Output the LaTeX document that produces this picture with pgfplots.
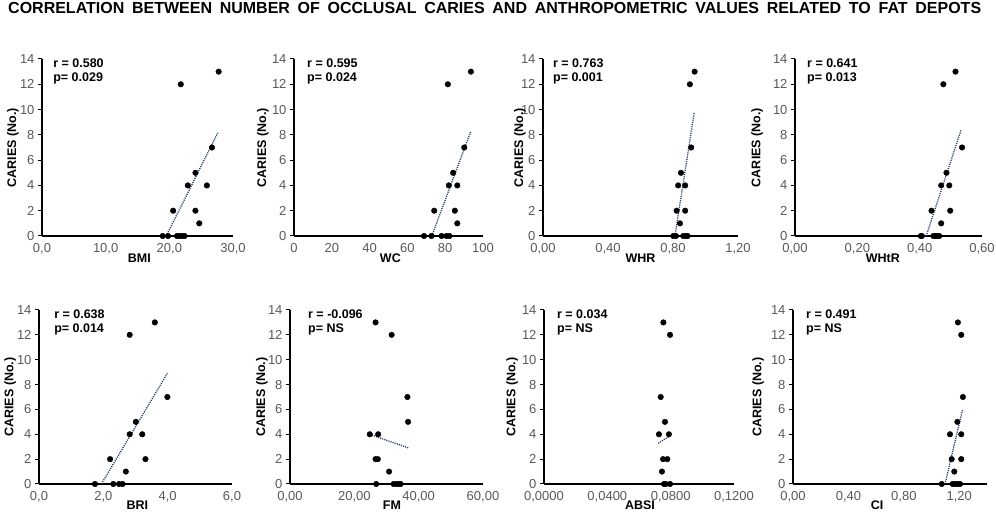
\documentclass[border=0pt]{standalone}
\usepackage{fontspec}
\setmainfont{Liberation Sans}
\usepackage{pgfplots}
\pgfplotsset{compat=1.18}
\definecolor{tickgray}{HTML}{595959}
\definecolor{trendc}{HTML}{1F3864}
\pgfplotsset{
  panel/.style={
    scale only axis, anchor=south west,
    axis x line=bottom, axis y line=left,
    axis line style={black, line width=1.5pt, -},
    xmin=0, ymin=0, ymax=14, ytick={0,2,...,14},
    tick label style={font=\fontsize{13}{13}\selectfont, text=tickgray},
    /pgf/number format/assume math mode=true,
    /pgf/number format/use comma,
    /pgf/number format/fixed,
    /pgf/number format/fixed zerofill,
    yticklabel style={/pgf/number format/precision=0},
    scaled x ticks=false, scaled y ticks=false,
    tick align=outside, major tick length=4pt,
    ytick style={black, line width=1pt},
    xtick style={draw=none},
    clip=false,
    xlabel style={font=\fontsize{12.5}{13}\selectfont\bfseries, anchor=base},
    ylabel style={font=\fontsize{12.5}{13}\selectfont\bfseries, anchor=center},
    ylabel={CARIES (No.)},
  },
  pts/.style={only marks, mark=*, mark size=2.8pt, black},
  trend/.style={no marks, trendc, line width=1.3pt, dash pattern=on 1.1pt off 1.1pt},
}
\newcommand{\rp}[3]{\node[anchor=north west, inner sep=0pt, align=left,
  font=\fontsize{12.5}{14}\selectfont\bfseries] at (rel axis cs:#1,1.0) {#2\\#3};}
\begin{document}
\begin{tikzpicture}
\useasboundingbox (0,0) rectangle (996pt,516pt);
\node[anchor=base west, inner sep=0pt, font=\fontsize{16}{16}\selectfont\bfseries] at (8pt,502pt)
 {\makebox[973pt][s]{CORRELATION BETWEEN NUMBER OF OCCLUSAL CARIES AND ANTHROPOMETRIC VALUES RELATED TO FAT DEPOTS}};
% ---------- Row 1 ----------
\begin{axis}[panel, at={(42pt,280pt)}, width=191pt, height=177pt,
  xmax=30, xtick={0,10,20,30}, xticklabel style={/pgf/number format/precision=1},
  xlabel={BMI}, xlabel style={at={(axis description cs:0.51,-0.147)}},
  ylabel style={at={(axis description cs:-0.152,0.5)}}]
\addplot[pts] coordinates {(18.95,0)(19.8,0)(21.2,0)(21.6,0)(22.0,0)(22.4,0)(21.8,12)(27.75,13)(20.6,2)(22.9,4)(24.1,5)(24.1,2)(24.7,1)(25.9,4)(26.7,7)};
\addplot[trend] coordinates {(19.5,0)(27.6,8.15)};
\rp{0.058}{r = 0.580}{p= 0.029}
\end{axis}
\begin{axis}[panel, at={(294pt,280pt)}, width=189pt, height=177pt,
  xmax=100, xtick={0,20,...,100}, xticklabel style={/pgf/number format/precision=0},
  xlabel={WC}, xlabel style={at={(axis description cs:0.51,-0.147)}},
  ylabel style={at={(axis description cs:-0.164,0.5)}}]
\addplot[pts] coordinates {(68.8,0)(72.7,0)(78.1,0)(80.7,0)(82.3,0)(74.2,2)(81.4,12)(81.9,4)(84.2,5)(85.1,2)(86.4,4)(86.4,1)(90.1,7)(93.6,13)};
\addplot[trend] coordinates {(72.9,0)(93.6,8.3)};
\rp{0.069}{r = 0.595}{p= 0.024}
\end{axis}
\begin{axis}[panel, at={(543pt,280pt)}, width=195pt, height=177pt,
  xmax=1.2, xtick={0,0.4,0.8,1.2}, xticklabel style={/pgf/number format/precision=2},
  xlabel={WHR}, xlabel style={at={(axis description cs:0.5,-0.147)}},
  ylabel style={at={(axis description cs:-0.118,0.5)}}]
\addplot[pts] coordinates {(0.802,0)(0.818,0)(0.822,2)(0.832,4)(0.843,1)(0.849,5)(0.863,0)(0.877,0)(0.890,0)(0.875,4)(0.875,2)(0.904,12)(0.912,7)(0.933,13)};
\addplot[trend] coordinates {(0.812,0)(0.931,9.8)};
\rp{0.051}{r = 0.763}{p= 0.001}
\end{axis}
\begin{axis}[panel, at={(795pt,280pt)}, width=187pt, height=177pt,
  xmax=0.6, xtick={0,0.2,0.4,0.6}, xticklabel style={/pgf/number format/precision=2},
  xlabel={WHtR}, xlabel style={at={(axis description cs:0.47,-0.147)}},
  ylabel style={at={(axis description cs:-0.203,0.5)}}]
\addplot[pts] coordinates {(0.404,0)(0.407,0)(0.438,2)(0.444,0)(0.450,0)(0.456,0)(0.463,0)(0.469,1)(0.469,4)(0.476,12)(0.486,5)(0.495,4)(0.498,2)(0.515,13)(0.536,7)};
\addplot[trend] coordinates {(0.421,0)(0.533,8.4)};
\rp{0.064}{r = 0.641}{p= 0.013}
\end{axis}
% ---------- Row 2 ----------
\begin{axis}[panel, at={(39pt,32pt)}, width=193pt, height=174pt,
  xmax=6, xtick={0,2,4,6}, xticklabel style={/pgf/number format/precision=1},
  xlabel={BRI}, xlabel style={at={(axis description cs:0.51,-0.149)}},
  ylabel style={at={(axis description cs:-0.150,0.5)}}]
\addplot[pts] coordinates {(1.74,0)(2.31,0)(2.49,0)(2.60,0)(2.21,2)(2.70,1)(2.82,12)(2.82,4)(3.01,5)(3.21,4)(3.31,2)(3.60,13)(3.99,7)};
\addplot[trend] coordinates {(1.94,0)(3.99,8.9)};
\rp{0.078}{r = 0.638}{p= 0.014}
\end{axis}
\begin{axis}[panel, at={(290pt,32pt)}, width=193pt, height=174pt,
  xmax=60, xtick={0,20,40,60}, xticklabel style={/pgf/number format/precision=2},
  xlabel={FM}, xlabel style={at={(axis description cs:0.528,-0.149)}},
  ylabel style={at={(axis description cs:-0.145,0.5)}}]
\addplot[pts] coordinates {(26.8,0)(26.6,13)(31.6,12)(36.5,7)(36.7,5)(24.8,4)(27.4,4)(26.6,2)(27.3,2)(30.8,1)(32.2,0)(33.1,0)(33.8,0)(34.4,0)};
\addplot[trend] coordinates {(24.8,4.0)(36.8,2.9)};
\rp{0.093}{r = -0.096}{p= NS}
\end{axis}
\begin{axis}[panel, at={(544pt,32pt)}, width=190pt, height=174pt,
  xmax=0.12, xtick={0,0.04,0.08,0.12}, xticklabel style={/pgf/number format/precision=4},
  xlabel={ABSI}, xlabel style={at={(axis description cs:0.505,-0.149)}},
  ylabel style={at={(axis description cs:-0.168,0.5)}}]
\addplot[pts] coordinates {(0.0754,13)(0.0796,12)(0.0737,7)(0.0764,5)(0.0726,4)(0.0789,4)(0.0752,2)(0.0779,2)(0.0745,1)(0.0758,0)(0.0768,0)(0.0796,0)};
\addplot[trend] coordinates {(0.0722,3.27)(0.0789,3.83)};
\rp{0.068}{r = 0.034}{p= NS}
\end{axis}
\begin{axis}[panel, at={(793pt,32pt)}, width=194pt, height=174pt,
  xmax=1.4, xtick={0,0.4,0.8,1.2}, xticklabel style={/pgf/number format/precision=2},
  xlabel={CI}, xlabel style={at={(axis description cs:0.433,-0.149)}},
  ylabel style={at={(axis description cs:-0.180,0.5)}}]
\addplot[pts] coordinates {(1.073,0)(1.133,4)(1.145,2)(1.164,1)(1.152,0)(1.171,0)(1.190,0)(1.205,0)(1.186,5)(1.190,13)(1.214,12)(1.214,4)(1.214,2)(1.226,7)};
\addplot[trend] coordinates {(1.097,0)(1.224,6.0)};
\rp{0.067}{r = 0.491}{p= NS}
\end{axis}
\end{tikzpicture}
\end{document}
